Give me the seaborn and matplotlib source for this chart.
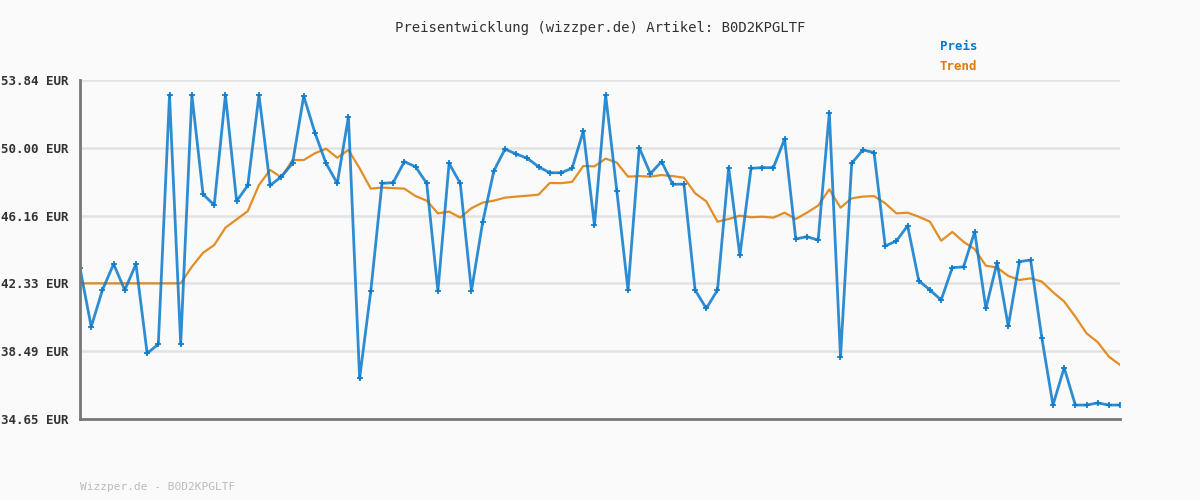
import matplotlib
matplotlib.use("Agg")
import matplotlib.pyplot as plt
import seaborn as sns
import pandas as pd

preis = [43.18,39.87,41.95,43.42,41.95,43.42,38.37,38.88,52.99,38.88,
         52.99,47.37,46.76,52.99,46.99,47.87,52.99,47.87,48.37,49.12,
         52.93,50.86,49.12,47.99,51.75,36.95,41.90,47.99,48.03,49.22,
         48.93,47.99,41.90,49.12,47.99,41.90,45.78,48.69,49.93,49.65,
         49.41,48.93,48.59,48.59,48.84,50.95,45.61,52.99,47.56,41.95,
         50.01,48.54,49.22,47.94,47.94,41.95,40.91,41.95,48.88,43.91,
         48.84,48.88,48.88,50.50,44.84,44.97,44.78,51.99,38.14,49.12,
         49.88,49.73,44.44,44.73,45.59,42.48,41.95,41.39,43.22,43.26,
         45.25,40.91,43.50,39.91,43.56,43.65,39.25,35.44,37.55,35.44,
         35.44,35.56,35.44,35.44]
trend = [42.33]*10 + [43.27,44.06,44.50,45.48,45.95,46.42,47.90,48.75,48.33,49.31,
         49.31,49.69,49.95,49.44,49.88,48.84,47.69,47.75,47.72,47.69,
         47.27,47.01,46.29,46.39,46.05,46.58,46.90,47.01,47.18,47.24,
         47.29,47.35,48.01,48.00,48.07,48.97,48.95,49.39,49.16,48.37,
         48.40,48.37,48.46,48.40,48.31,47.43,46.97,45.82,45.97,46.16,
         46.07,46.10,46.05,46.33,45.97,46.33,46.73,47.65,46.61,47.14,
         47.24,47.27,46.86,46.29,46.33,46.10,45.82,44.74,45.24,44.68,
         44.26,43.33,43.22,42.75,42.52,42.61,42.43,41.83,41.30,40.44,
         39.50,39.00,38.18,37.71]
yticks = [34.65, 38.49, 42.33, 46.16, 50.00, 53.84]
ytick_labels = ["34.65 EUR", "38.49 EUR", "42.33 EUR", "46.16 EUR", "50.00 EUR", "53.84 EUR"]

df = pd.DataFrame({"i": range(len(preis)), "preis": preis, "trend": trend})

sns.set_style("white")
plt.rcParams['font.family'] = ['DejaVu Sans Mono', 'DejaVu Sans']
bg = "#fafafa"
fig = plt.figure(figsize=(12, 5), dpi=100, facecolor=bg)
ax = fig.add_axes([0.0667, 0.162, 0.8667, 0.678], facecolor=bg)

for t in yticks:
    ax.axhline(t, color="#e3e3e3", lw=1.8, zorder=0)
sns.lineplot(data=df, x="i", y="trend", ax=ax, color="#e07b00", lw=1.6, alpha=0.85)
sns.lineplot(data=df, x="i", y="preis", ax=ax, color="#0a7acc", lw=2, alpha=0.85,
             marker="P", markersize=4, markeredgewidth=0)

ax.set_xlim(0, len(preis) - 1)
ax.set_ylim(34.65, 53.84)
ax.set_yticks(yticks)
ax.set_yticklabels(ytick_labels, fontsize=9, fontweight="bold", color="#333333")
ax.set_xticks([])
ax.set_xlabel("")
ax.set_ylabel("")
ax.tick_params(axis="y", length=0, pad=8)
for s in ["top", "right"]:
    ax.spines[s].set_visible(False)
for s in ["left", "bottom"]:
    ax.spines[s].set_color("#777777")
    ax.spines[s].set_linewidth(2)

fig.text(0.5, 0.944, "Preisentwicklung (wizzper.de) Artikel: B0D2KPGLTF", ha="center",
         va="center", fontsize=10, color="#333333")
fig.text(0.783, 0.906, "Preis", fontsize=9, fontweight="bold", color="#0a7acc", va="center")
fig.text(0.783, 0.866, "Trend", fontsize=9, fontweight="bold", color="#e07b00", va="center")
fig.text(0.0667, 0.026, "Wizzper.de - B0D2KPGLTF", fontsize=8, color="#bbbbbb", va="center")

fig.savefig("out.png", dpi=100, facecolor=bg)
